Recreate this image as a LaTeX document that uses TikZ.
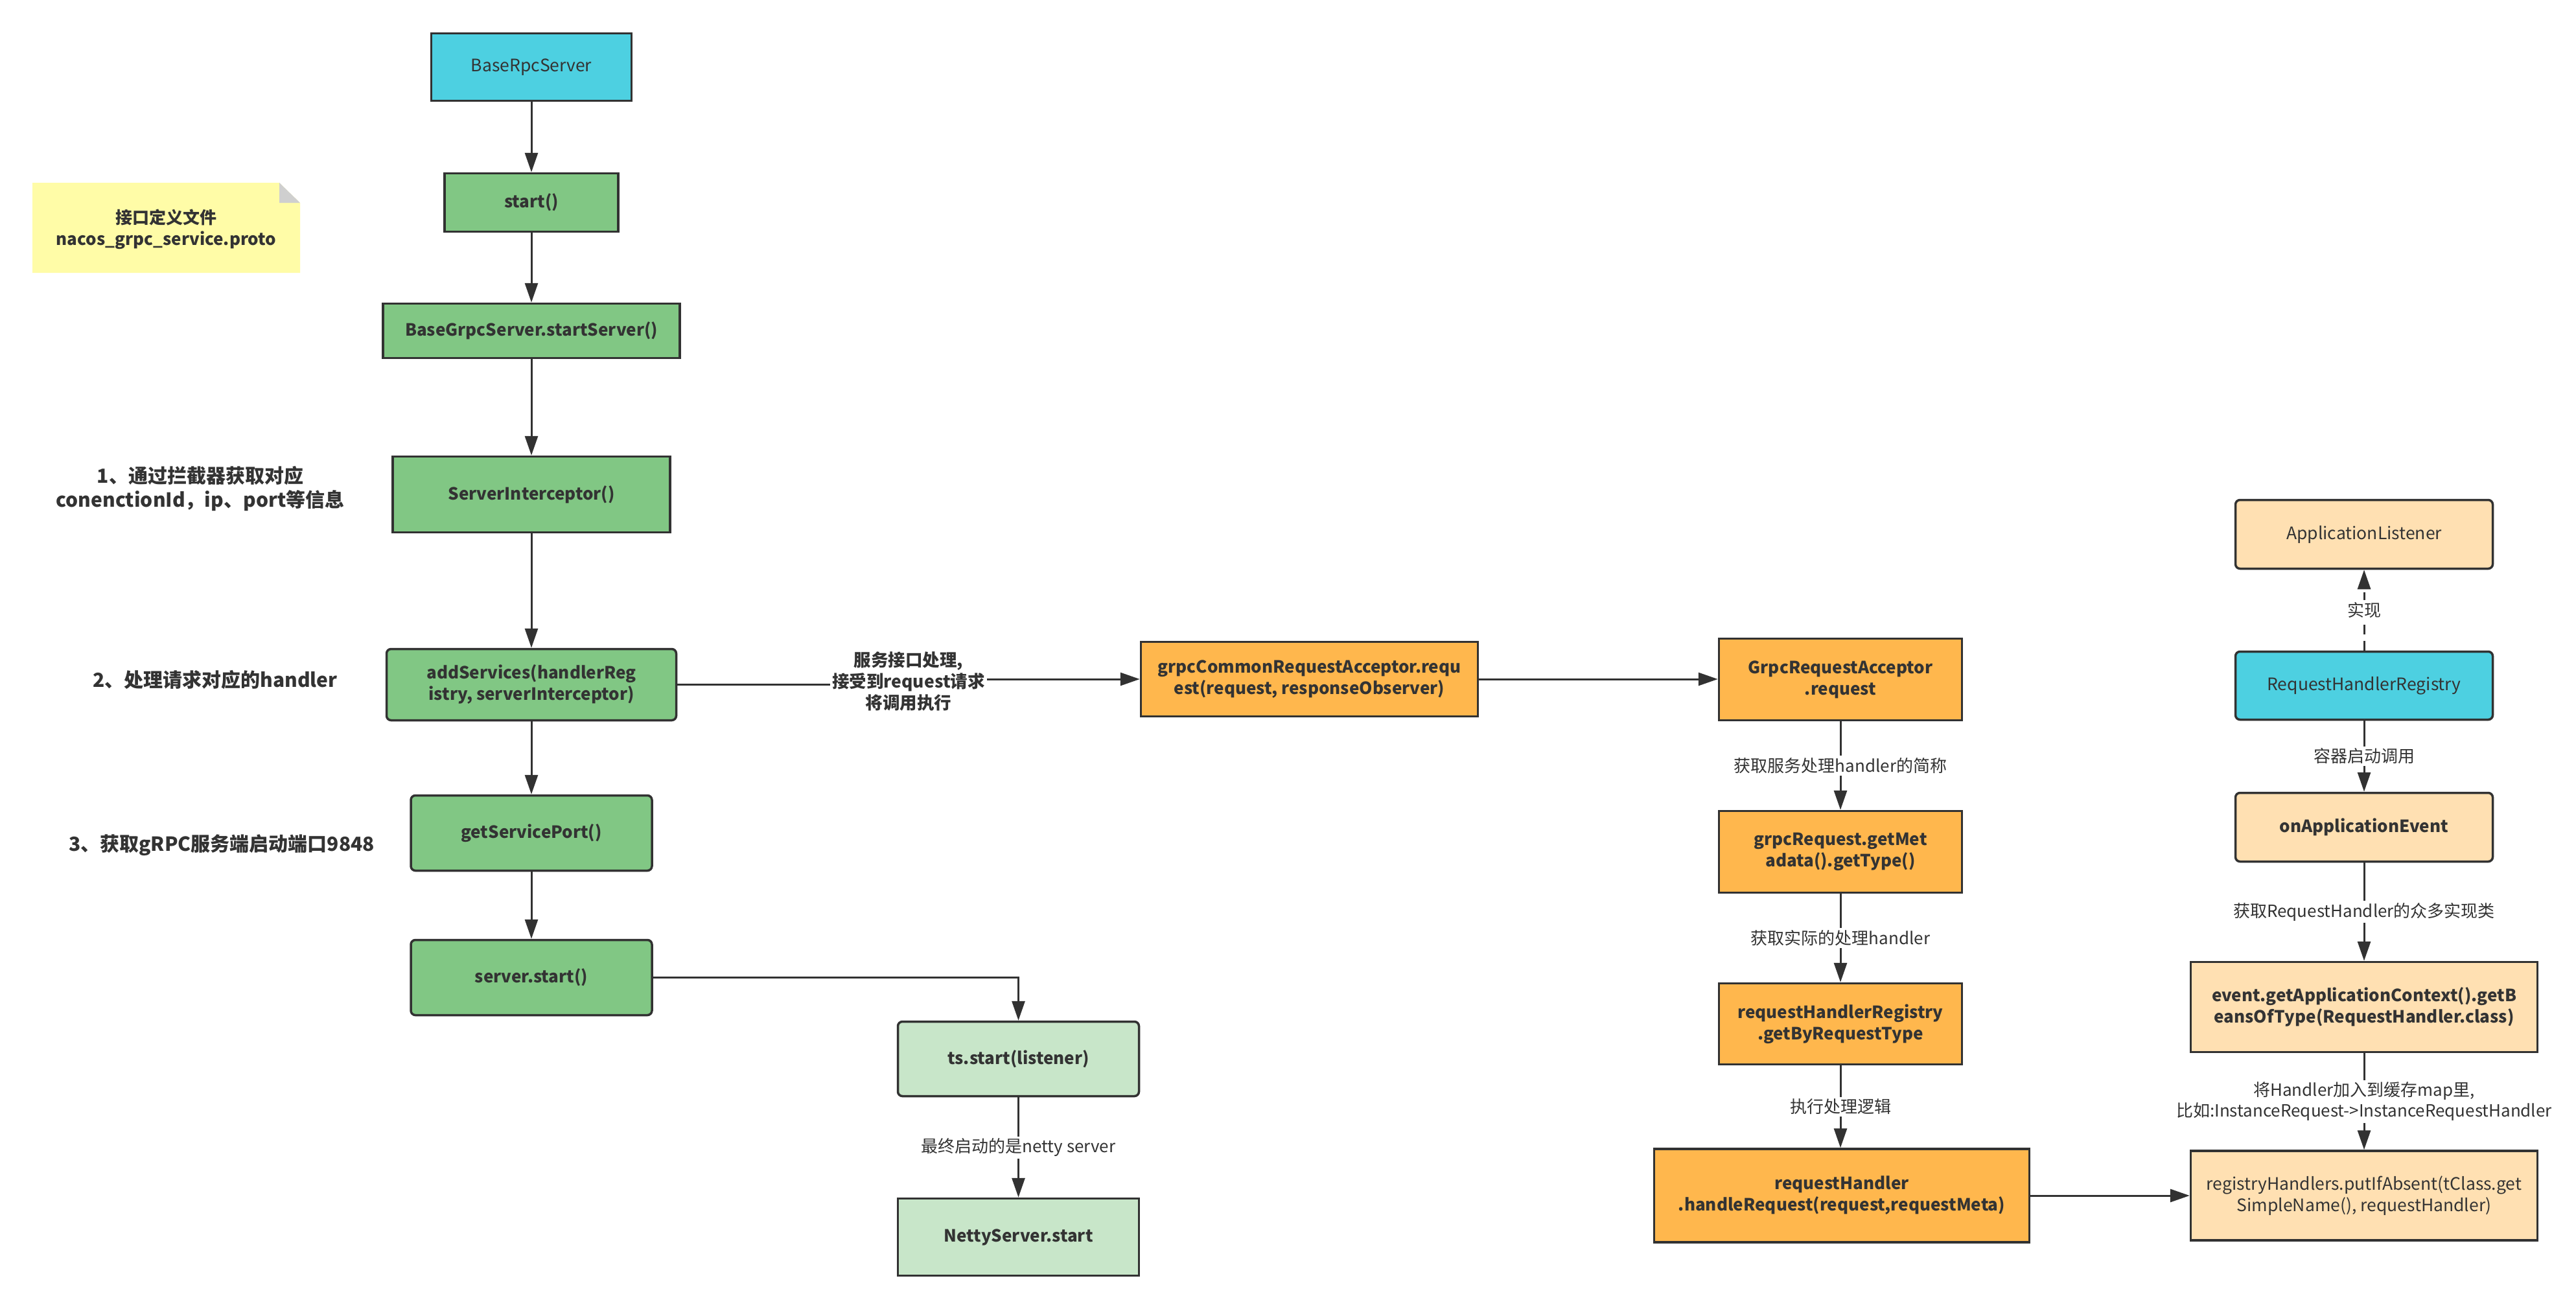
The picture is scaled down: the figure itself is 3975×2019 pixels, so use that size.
\documentclass[tikz,border=0pt]{standalone}
\usepackage{fontspec}
\setmainfont{Noto Sans CJK SC}
\usetikzlibrary{arrows.meta,calc}
\definecolor{cyanbox}{HTML}{4DD0E1}
\definecolor{greenbox}{HTML}{81C784}
\definecolor{lgreenbox}{HTML}{C8E6C9}
\definecolor{orangebox}{HTML}{FFB74D}
\definecolor{lorangebox}{HTML}{FFE0B2}
\definecolor{notebox}{HTML}{FFFCA7}
\definecolor{notefold}{HTML}{CFCFCF}
\definecolor{edgec}{HTML}{323232}
\definecolor{txt}{HTML}{333333}
\begin{document}
\begin{tikzpicture}[x=1pt,y=-1pt,
  box/.style={draw=edgec, line width=3.5pt, text=txt, font=\fontsize{26.5}{33}\selectfont, align=center, inner sep=0pt},
  bbox/.style={box, font=\fontsize{26}{33}\selectfont\bfseries},
  rnd/.style={rounded corners=7pt},
  conn/.style={draw=edgec, line width=3pt, -{Triangle[length=30pt,width=20pt]}},
  elabel/.style={fill=white, text=txt, font=\fontsize{26}{32}\selectfont, inner sep=3pt, align=center},
  belabel/.style={elabel, font=\fontsize{26.5}{33}\selectfont\bfseries},
  sidelabel/.style={text=txt, font=\fontsize{30}{37}\selectfont\bfseries, align=center, inner sep=0pt},
  notetext/.style={text=txt, font=\fontsize{26}{33}\selectfont\bfseries, align=center, inner sep=0pt}
]
\useasboundingbox (0,0) rectangle (3975,2019);
\fill[white] (0,0) rectangle (3975,2019);

% note
\fill[notebox] (50,282) -- (431,282) -- (463,313) -- (463,421) -- (50,421) -- cycle;
\fill[notefold] (431,282) -- (431,313) -- (463,313) -- cycle;
\node[notetext] (note) at (256.5,353.5) {接口定义文件\\nacos\_grpc\_service.proto};

% side labels
\node[sidelabel] (s1) at (309,754.5) {1、通过拦截器获取对应\\conenctionId，ip、port等信息};
\node[sidelabel] (s2) at (332,1049) {2、处理请求对应的handler};
\node[sidelabel] (s3) at (342,1304) {3、获取gRPC服务端启动端口9848};

% left column
\node[box, fill=cyanbox, minimum width=309pt, minimum height=104pt] (brs) at (820,103.5) {BaseRpcServer};
\node[bbox, fill=greenbox, minimum width=268pt, minimum height=90pt] (start) at (820,312.5) {start()};
\node[bbox, fill=greenbox, minimum width=458pt, minimum height=84pt] (bgs) at (820,510.5) {BaseGrpcServer.startServer()};
\node[bbox, fill=greenbox, minimum width=428pt, minimum height=117pt] (si) at (820,763) {ServerInterceptor()};
\node[bbox, rnd, fill=greenbox, minimum width=447pt, minimum height=110pt] (add) at (820,1056.5) {addServices(handlerReg\\istry, serverInterceptor)};
\node[bbox, rnd, fill=greenbox, minimum width=372pt, minimum height=116pt] (gsp) at (820,1285.5) {getServicePort()};
\node[bbox, rnd, fill=greenbox, minimum width=372pt, minimum height=116pt] (ss) at (820,1508.5) {server.start()};
\node[bbox, rnd, fill=lgreenbox, minimum width=372pt, minimum height=115pt] (ts) at (1571.5,1634) {ts.start(listener)};
\node[bbox, fill=lgreenbox, minimum width=372pt, minimum height=119pt] (netty) at (1571.5,1909) {NettyServer.start};

% middle
\node[bbox, fill=orangebox, minimum width=520pt, minimum height=115pt] (gcra) at (2020.5,1048) {grpcCommonRequestAcceptor.requ\\est(request, responseObserver)};
\node[bbox, fill=orangebox, minimum width=375pt, minimum height=126pt] (gra) at (2840,1048.5) {GrpcRequestAcceptor\\.request};
\node[bbox, fill=orangebox, minimum width=375pt, minimum height=126pt] (gmt) at (2840,1314.5) {grpcRequest.getMet\\adata().getType()};
\node[bbox, fill=orangebox, minimum width=375pt, minimum height=125pt] (grt) at (2840,1580) {requestHandlerRegistry\\.getByRequestType};
\node[bbox, fill=orangebox, minimum width=579pt, minimum height=144pt] (rh) at (2842,1845) {requestHandler\\.handleRequest(request,requestMeta)};

% right column
\node[box, rnd, fill=lorangebox, minimum width=397pt, minimum height=106pt] (al) at (3648,824.5) {ApplicationListener};
\node[box, rnd, fill=cyanbox, minimum width=397pt, minimum height=105pt] (rhr) at (3648,1058) {RequestHandlerRegistry};
\node[bbox, rnd, fill=lorangebox, minimum width=397pt, minimum height=106pt] (oae) at (3648,1276.5) {onApplicationEvent};
\node[bbox, fill=lorangebox, minimum width=535pt, minimum height=139pt] (evt) at (3648,1554) {event.getApplicationContext().getB\\eansOfType(RequestHandler.class)};
\node[box, fill=lorangebox, minimum width=535pt, minimum height=138pt] (reg) at (3648,1845) {registryHandlers.putIfAbsent(tClass.get\\SimpleName(), requestHandler)};

% connectors left
\draw[conn] (brs.south) -- (start.north);
\draw[conn] (start.south) -- (bgs.north);
\draw[conn] (bgs.south) -- (si.north);
\draw[conn] (si.south) -- (add.north);
\draw[conn] (add.south) -- (gsp.north);
\draw[conn] (gsp.south) -- (ss.north);
\draw[conn] (ss.east) -| (ts.north);
\draw[conn] (ts.south) -- node[elabel] (l1) {最终启动的是netty server} (netty.north);

% middle connectors
\coordinate (mj) at (1402,1052);
\draw[conn] (add.east) -- (add.east -| mj) -- (mj |- gcra.west) -- (gcra.west);
\node[belabel] (l2) at (mj) {服务接口处理,\\接受到request请求\\将调用执行};
\draw[conn] (gcra.east) -- (gcra.east -| gra.west);
\draw[conn] (gra.south) -- node[elabel] (l3) {获取服务处理handler的简称} (gmt.north);
\draw[conn] (gmt.south) -- node[elabel] (l4) {获取实际的处理handler} (grt.north);
\draw[conn] (grt.south) -- node[elabel] (l5) {执行处理逻辑} (rh.north -| grt.south);
\draw[conn] (rh.east) -- (reg.west);

% right connectors
\draw[conn, dash pattern=on 15pt off 10pt] (rhr.north) -- node[elabel] (l6) {实现} (al.south);
\draw[conn] (rhr.south) -- node[elabel] (l7) {容器启动调用} (oae.north);
\draw[conn] (oae.south) -- node[elabel] (l8) {获取RequestHandler的众多实现类} (evt.north);
\draw[conn] (evt.south) -- node[elabel] (l9) {将Handler加入到缓存map里,\\比如:InstanceRequest->InstanceRequestHandler} (reg.north);
\end{tikzpicture}
\end{document}
